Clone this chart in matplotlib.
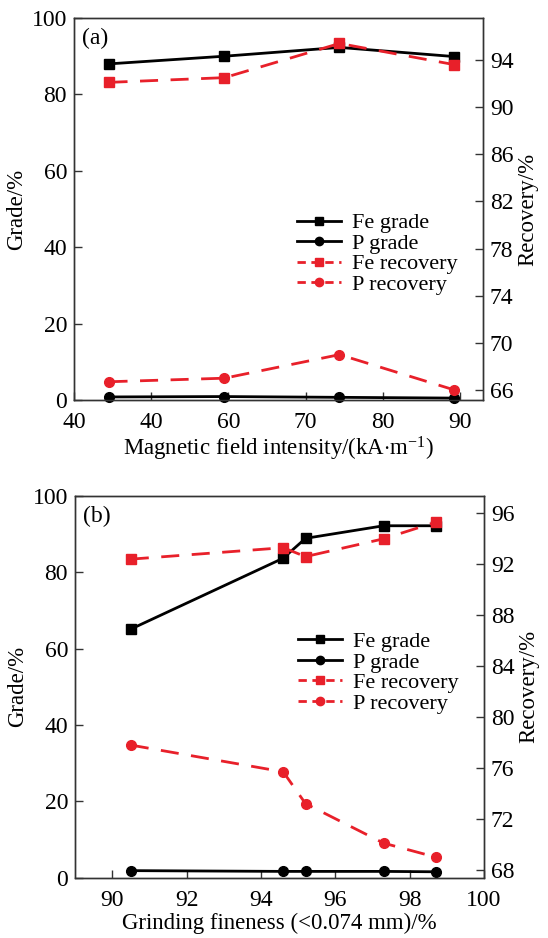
import matplotlib
matplotlib.use("Agg")
import matplotlib.pyplot as plt
from matplotlib.lines import Line2D

plt.rcParams['font.family'] = ['Liberation Serif', 'DejaVu Serif']
plt.rcParams['mathtext.fontset'] = 'custom'
plt.rcParams['mathtext.rm'] = 'Liberation Serif'
plt.rcParams['mathtext.it'] = 'Liberation Serif:italic'

# ---- data (a) ----
field_a = [44.6, 59.5, 74.4, 89.3]
fe_grade_a = [88.0, 90.0, 92.3, 89.9]
p_grade_a = [0.8, 0.9, 0.7, 0.5]
fe_rec_a = [92.1, 92.5, 95.4, 93.6]
p_rec_a = [66.7, 67.0, 69.0, 66.0]
xticks_a = [40, 50, 60, 70, 80, 90]
xticklabels_a = ['40', '40', '60', '70', '80', '90']

# ---- data (b) ----
fine_b = [90.5, 94.6, 95.2, 97.3, 98.7]
fe_grade_b = [65.1, 83.7, 88.9, 92.2, 92.2]
p_grade_b = [1.8, 1.6, 1.6, 1.6, 1.5]
fe_rec_b = [92.4, 93.3, 92.6, 94.0, 95.3]
p_rec_b = [77.8, 75.7, 73.2, 70.1, 69.0]
xticks_b = [90, 92, 94, 96, 98, 100]

RED = '#e8202a'
TFS = 17
LFS = 16.5
GFS = 16
W, H = 548, 938
fig = plt.figure(figsize=(W / 100, H / 100), dpi=100)


def frac(l, r, t, b):
    return [l / W, 1 - b / H, (r - l) / W, (b - t) / H]


def style(ax):
    for s in ax.spines.values():
        s.set_linewidth(1.0)
        s.set_color('#333333')
    ax.tick_params(direction='in', length=6, width=1.0, labelsize=TFS,
                   color='#333333', pad=5)
    ax.tick_params(axis='x', pad=9)


def panel(rect, x, feg, pg, fer, pr, xlim, ylim2, xt, xtl, rt, xlabel, tag, leg_anchor):
    ax = fig.add_axes(rect)
    ax2 = ax.twinx()
    ax.plot(x, feg, '-', color='black', lw=2.0, marker='s', ms=7, zorder=3)
    ax.plot(x, pg, '-', color='black', lw=2.0, marker='o', ms=7, zorder=3, clip_on=False)
    ax2.plot(x, fer, '--', color=RED, lw=2.0, marker='s', ms=7, dashes=(6.5, 4.5))
    ax2.plot(x, pr, '--', color=RED, lw=2.0, marker='o', ms=7, dashes=(6.5, 4.5))
    ax.set_xlim(*xlim)
    ax.set_ylim(0, 100)
    ax.set_yticks([0, 20, 40, 60, 80, 100])
    ax.set_xticks(xt)
    ax.set_xticklabels(xtl)
    ax2.set_ylim(*ylim2)
    ax2.set_yticks(rt)
    style(ax)
    style(ax2)
    ax.set_ylabel('Grade/%', fontsize=LFS, labelpad=3)
    ax2.set_ylabel('Recovery/%', fontsize=LFS, labelpad=3)
    ax.set_xlabel(xlabel, fontsize=LFS, labelpad=1)
    ax.text(0.02, 0.975, tag, transform=ax.transAxes, fontsize=TFS, va='top', ha='left')
    handles = [
        Line2D([], [], color='black', lw=2.0, marker='s', ms=6),
        Line2D([], [], color='black', lw=2.0, marker='o', ms=6),
        Line2D([], [], color=RED, lw=2.0, marker='s', ms=6, ls='--', dashes=(3, 2)),
        Line2D([], [], color=RED, lw=2.0, marker='o', ms=6, ls='--', dashes=(3, 2)),
    ]
    ax2.legend(handles, ['Fe grade', 'P grade', 'Fe recovery', 'P recovery'],
               loc='upper left', bbox_to_anchor=leg_anchor, frameon=False,
               fontsize=GFS, handlelength=2.0, handletextpad=0.5,
               labelspacing=0.0, borderpad=0, borderaxespad=0)
    return ax, ax2


panel(frac(74, 483, 18, 400), field_a, fe_grade_a, p_grade_a, fe_rec_a, p_rec_a,
      (40, 93), (65.15, 97.56), xticks_a, xticklabels_a, [66, 70, 74, 78, 82, 86, 90, 94],
      r'Magnetic field intensity/(kA$\cdot$m$^{-1}$)', '(a)', (0.545, 0.49))

panel(frac(75, 484, 496, 877.5), fine_b, fe_grade_b, p_grade_b, fe_rec_b, p_rec_b,
      (89, 100), (67.4, 97.36), xticks_b, [str(v) for v in xticks_b], [68, 72, 76, 80, 84, 88, 92, 96],
      'Grinding fineness (<0.074 mm)/%', '(b)', (0.545, 0.645))

fig.savefig('out.png', dpi=100)
